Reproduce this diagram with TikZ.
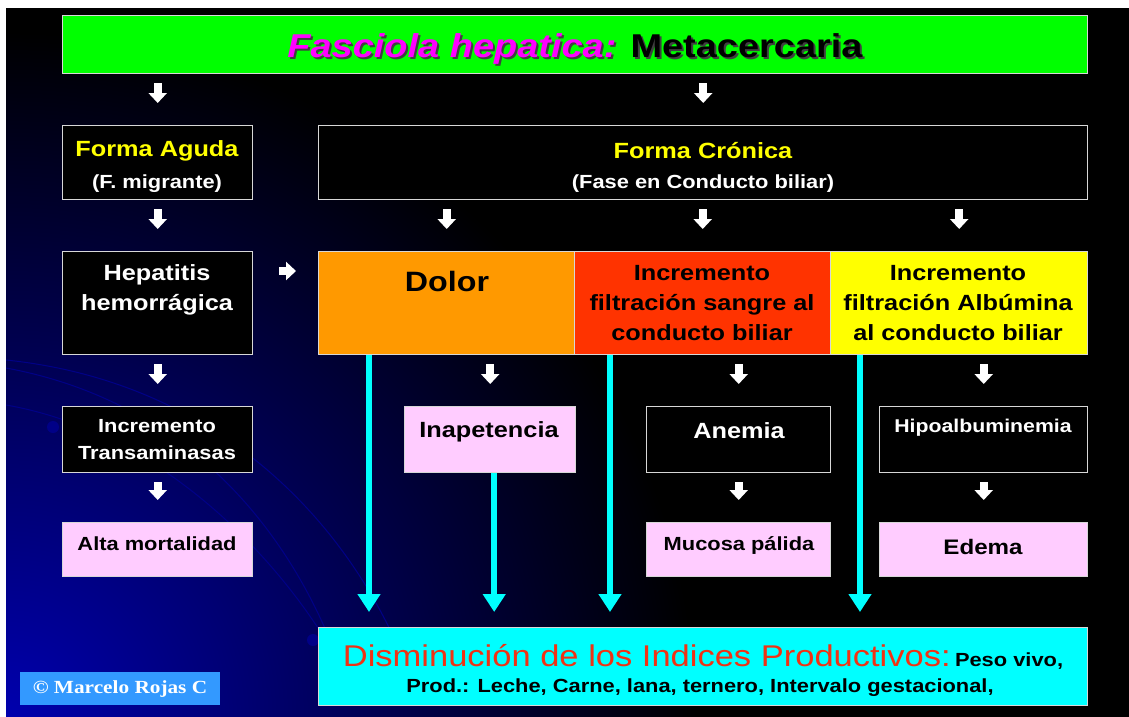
\documentclass[tikz,border=0pt]{standalone}
\usepackage{fontspec}
\setmainfont{Liberation Sans}[FakeStretch=1.15]
\newfontfamily\cpfont{Liberation Serif}[FakeStretch=1.15]
\usetikzlibrary{arrows.meta}
\definecolor{ttlgreen}{RGB}{0,255,0}
\definecolor{magc}{RGB}{255,0,255}
\definecolor{dolorc}{RGB}{255,153,0}
\definecolor{sangrec}{RGB}{255,51,0}
\definecolor{albuc}{RGB}{255,255,0}
\definecolor{pinkc}{RGB}{255,204,255}
\definecolor{cyanc}{RGB}{0,255,255}
\definecolor{cpblue}{RGB}{51,153,255}
\definecolor{txtyel}{RGB}{255,255,0}
\definecolor{dismred}{RGB}{240,50,20}
\definecolor{framec}{RGB}{215,215,215}
\definecolor{bgblue}{RGB}{0,0,175}
\definecolor{arcc}{RGB}{0,0,135}
\begin{document}
\begin{tikzpicture}[x=1pt,y=-1pt,
  frame/.style={draw=framec,line width=1.4pt,anchor=north west,inner sep=0pt},
  blk/.style={frame,fill=black},
  lbl/.style={font=\bfseries\fontsize{22}{30}\selectfont,align=center},
  sml/.style={font=\bfseries\fontsize{19}{27}\selectfont,align=center},
  wblk/.style={white,line width=8pt,-{Triangle[width=18pt,length=10pt]},shorten <=9pt,shorten >=22pt},
  cyarr/.style={cyanc,line width=6pt,-{Triangle[width=22pt,length=18pt]},shorten >=15pt}]
% background
\useasboundingbox (0,0) rectangle (1129,716);
\fill[white] (0,0) rectangle (1129,716);
\fill[black] (6,8) rectangle (1135,722);
\begin{scope}
\clip (6,8) rectangle (1135,722);
\shade[inner color=bgblue,outer color=black] (6,722) circle (690);
\draw[arcc,line width=1pt] (6,360) .. controls (200,380) and (330,500) .. (395,640);
\draw[arcc,line width=1pt] (6,368) .. controls (180,400) and (280,520) .. (330,640);
\draw[arcc,line width=1pt] (6,405) .. controls (150,430) and (260,540) .. (318,628);
\fill[arcc] (53,427) circle (6) (173,413) circle (6) (313,640) circle (6);
\end{scope}

% boxes
\node[frame,fill=ttlgreen,minimum width=1025pt,minimum height=58pt] (title) at (62,15) {};
\node[blk,minimum width=190pt,minimum height=74pt] (aguda) at (62,125) {};
\node[blk,minimum width=769pt,minimum height=74pt] (cronica) at (318,125) {};
\node[blk,minimum width=190pt,minimum height=103pt] (hep) at (62,251) {};
\node[frame,fill=dolorc,minimum width=256pt,minimum height=103pt] (dolor) at (318,251) {};
\node[frame,fill=sangrec,minimum width=256pt,minimum height=103pt] (sangre) at (574,251) {};
\node[frame,fill=albuc,minimum width=257pt,minimum height=103pt] (albu) at (830,251) {};
\node[blk,minimum width=190pt,minimum height=66pt] (trans) at (62,406) {};
\node[frame,fill=pinkc,minimum width=171pt,minimum height=66pt] (inap) at (404,406) {};
\node[blk,minimum width=184pt,minimum height=66pt] (anemia) at (646,406) {};
\node[blk,minimum width=208pt,minimum height=66pt] (hipo) at (879,406) {};
\node[frame,fill=pinkc,minimum width=190pt,minimum height=54pt] (alta) at (62,522) {};
\node[frame,fill=pinkc,minimum width=184pt,minimum height=54pt] (mucosa) at (646,522) {};
\node[frame,fill=pinkc,minimum width=208pt,minimum height=54pt] (edema) at (879,522) {};
\node[frame,fill=cyanc,minimum width=769pt,minimum height=78pt] (dism) at (318,627) {};
\node[anchor=north west,fill=cpblue,minimum width=200pt,minimum height=33pt,inner sep=0pt] (copy) at (20,672) {};

% texts
\node[anchor=base,text=black!75,font=\bfseries\fontsize{33}{40}\selectfont] (title-sh) at (577,59) {{\itshape Fasciola hepatica:} Metacercaria};
\node[anchor=base,font=\bfseries\fontsize{33}{40}\selectfont] (title-t) at (575,57) {\textcolor{magc}{\itshape Fasciola hepatica:} Metacercaria};
\node[lbl,text=txtyel] (aguda-t) at (157,151) {Forma Aguda};
\node[sml,text=white] (aguda-s) at (157,184) {(F. migrante)};
\node[lbl,text=txtyel] (cronica-t) at (703,151) {Forma Crónica};
\node[sml,text=white] (cronica-s) at (703,184) {(Fase en Conducto biliar)};
\node[lbl,text=white] (hep-t) at (157,290) {Hepatitis\\hemorrágica};
\node[lbl,font=\bfseries\fontsize{28}{30}\selectfont] (dolor-t) at (447,281) {Dolor};
\node[lbl] (sangre-t) at (702,303.5) {Incremento\\filtración sangre al\\conducto biliar};
\node[lbl] (albu-t) at (958,303.5) {Incremento\\filtración Albúmina\\al conducto biliar};
\node[sml,text=white] (trans-t) at (157,440) {Incremento\\Transaminasas};
\node[lbl] (inap-t) at (489,432) {Inapetencia};
\node[lbl,text=white] (anemia-t) at (739,431) {Anemia};
\node[sml,text=white,font=\bfseries\fontsize{18.5}{24}\selectfont] (hipo-t) at (983,428) {Hipoalbuminemia};
\node[sml] (alta-t) at (157,544) {Alta mortalidad};
\node[sml] (mucosa-t) at (739,545) {Mucosa pálida};
\node[lbl,font=\bfseries\fontsize{21}{30}\selectfont] (edema-t) at (983,547) {Edema};
\node (dism-t) at (703,657) {\textcolor{dismred}{\fontsize{30}{34}\selectfont Disminución de los Indices Productivos:} {\bfseries\fontsize{19}{24}\selectfont Peso vivo,}};
\node[sml] (dism-s) at (700,688) {Prod.: Leche, Carne, lana, ternero, Intervalo gestacional,};
\node[text=white,font=\cpfont\bfseries\fontsize{18.5}{22}\selectfont] (copy-t) at (120,689) {© Marcelo Rojas C};

% white block arrows
\draw[wblk] (title.south -| aguda.north) -- (aguda.north);
\draw[wblk] (title.south -| cronica.north) -- (cronica.north);
\draw[wblk] (aguda.south) -- (hep.north);
\foreach \b in {dolor,sangre,albu}{\draw[wblk] (cronica.south -| \b.north) -- (\b.north);}
\draw[wblk] (hep.south) -- (trans.north);
\draw[wblk] (dolor.south -| inap.north) -- (inap.north);
\draw[wblk] (sangre.south -| anemia.north) -- (anemia.north);
\draw[wblk] (albu.south -| hipo.north) -- (hipo.north);
\draw[wblk] (trans.south) -- (alta.north);
\draw[wblk] (anemia.south) -- (mucosa.north);
\draw[wblk] (hipo.south) -- (edema.north);
\draw[wblk,shorten <=26pt,shorten >=22pt] (hep.east |- 0,271) -- (dolor.west |- 0,271);

% cyan arrows
\coordinate (c1) at ([xshift=51pt]dolor.south west);
\coordinate (c2) at ([xshift=4pt]inap.south);
\coordinate (c3) at ([xshift=36pt]sangre.south west);
\coordinate (c4) at ([xshift=30pt]albu.south west);
\foreach \c in {c1,c2,c3,c4}{\draw[cyarr] (\c) -- (\c |- dism.north);}
\end{tikzpicture}
\end{document}
